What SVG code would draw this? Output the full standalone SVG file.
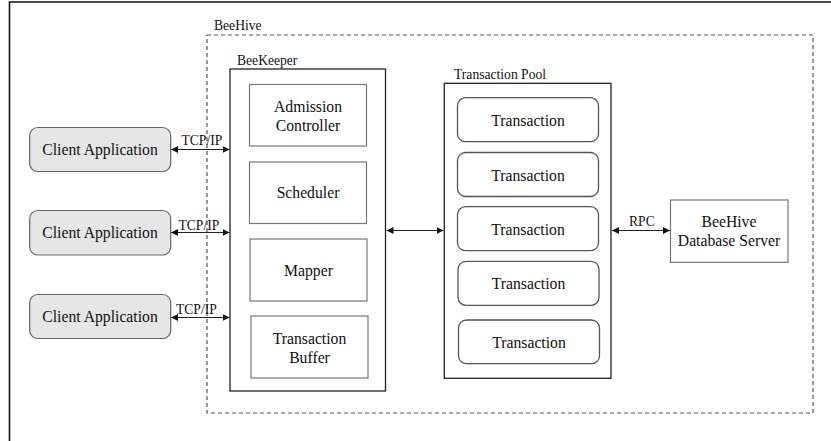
<svg xmlns="http://www.w3.org/2000/svg" width="831" height="441" viewBox="0 0 831 441" font-family="'Liberation Serif','Times New Roman',serif">
<style>
text{font-family:"Liberation Serif","Times New Roman",serif;fill:#111}
.lbl{font-family:"Liberation Serif","Times New Roman",serif;font-size:13.6px}
.t{font-family:"Liberation Serif","Times New Roman",serif;font-size:15.7px;text-anchor:middle}
.box{fill:#fff;stroke:#777;stroke-width:1.2}
.cont{fill:#fff;stroke:#222;stroke-width:1.3}
.tx{fill:#fff;stroke:#555;stroke-width:1.3}
.client{fill:#e6e6e6;stroke:#666;stroke-width:1.2}
.conn{stroke:#222;stroke-width:1;fill:none;marker-start:url(#ah);marker-end:url(#ah)}
</style>
<defs>
<marker id="ah" viewBox="0 0 10 10" refX="10" refY="5" markerWidth="7" markerHeight="7" markerUnits="userSpaceOnUse" orient="auto-start-reverse">
<path d="M0,0 L10,5 L0,10 z" fill="#111"/>
</marker>
</defs>
<rect width="831" height="441" fill="#fff"/>
<path d="M9.5,441 V2 H831" fill="none" stroke="#111" stroke-width="1.6"/>
<g id="beehive">
<rect x="207" y="35" width="606" height="378" fill="none" stroke="#555" stroke-width="1.2" stroke-dasharray="4,3"/>
<text class="lbl" x="214" y="29.5">BeeHive</text>
</g>
<g id="beekeeper">
<rect class="cont" x="230" y="69" width="155.5" height="322"/>
<text class="lbl" x="237" y="65">BeeKeeper</text>
</g>
<g id="admission">
<rect class="box" x="249.5" y="84.5" width="117" height="61.5"/>
<text class="t" x="308" y="111.5">Admission</text>
<text class="t" x="308" y="130.5">Controller</text>
</g>
<g id="scheduler">
<rect class="box" x="249.5" y="162" width="117" height="61.5"/>
<text class="t" x="308" y="198">Scheduler</text>
</g>
<g id="mapper">
<rect class="box" x="250" y="239" width="117" height="62"/>
<text class="t" x="308.5" y="276">Mapper</text>
</g>
<g id="buffer">
<rect class="box" x="251" y="316" width="117" height="62"/>
<text class="t" x="309.5" y="344">Transaction</text>
<text class="t" x="309.5" y="363">Buffer</text>
</g>
<g id="pool">
<rect class="cont" x="444.3" y="83.3" width="166.7" height="295"/>
<text class="lbl" x="454" y="79">Transaction Pool</text>
</g>
<g id="tx1"><rect class="tx" x="457.5" y="97.7" width="141" height="44" rx="8"/><text class="t" x="528" y="125.7">Transaction</text></g>
<g id="tx2"><rect class="tx" x="457.5" y="152.5" width="141" height="44" rx="8"/><text class="t" x="528" y="180.5">Transaction</text></g>
<g id="tx3"><rect class="tx" x="457.5" y="206.7" width="141" height="44" rx="8"/><text class="t" x="528" y="234.7">Transaction</text></g>
<g id="tx4"><rect class="tx" x="458" y="261.3" width="141" height="44" rx="8"/><text class="t" x="528.5" y="289.3">Transaction</text></g>
<g id="tx5"><rect class="tx" x="458.5" y="320" width="141" height="43.7" rx="8"/><text class="t" x="529" y="348">Transaction</text></g>
<g id="client1"><rect class="client" x="29.7" y="127.5" width="141" height="44" rx="8"/><text class="t" x="100" y="155">Client Application</text></g>
<g id="client2"><rect class="client" x="29.7" y="210.5" width="141" height="44.5" rx="8"/><text class="t" x="100" y="238">Client Application</text></g>
<g id="client3"><rect class="client" x="29.7" y="294.5" width="141" height="44" rx="8"/><text class="t" x="100" y="322">Client Application</text></g>
<g id="dbserver">
<rect class="box" x="670.5" y="200" width="117.5" height="62.3"/>
<text class="t" x="729" y="226.7">BeeHive</text>
<text class="t" x="729" y="245.7">Database Server</text>
</g>
<g id="connectors">
<line class="conn" x1="171" y1="149.5" x2="229.5" y2="149.5"/>
<line class="conn" x1="171" y1="232.5" x2="229.5" y2="232.5"/>
<line class="conn" x1="171" y1="317.5" x2="229.5" y2="317.5"/>
<line class="conn" x1="386.5" y1="230.5" x2="443.5" y2="230.5"/>
<line class="conn" x1="612" y1="230.5" x2="670" y2="230.5"/>
<text class="lbl" x="181.5" y="145">TCP/IP</text>
<text class="lbl" x="178.5" y="229.5">TCP/IP</text>
<text class="lbl" x="176" y="313.5">TCP/IP</text>
<text class="lbl" x="629" y="226">RPC</text>
</g>
</svg>
